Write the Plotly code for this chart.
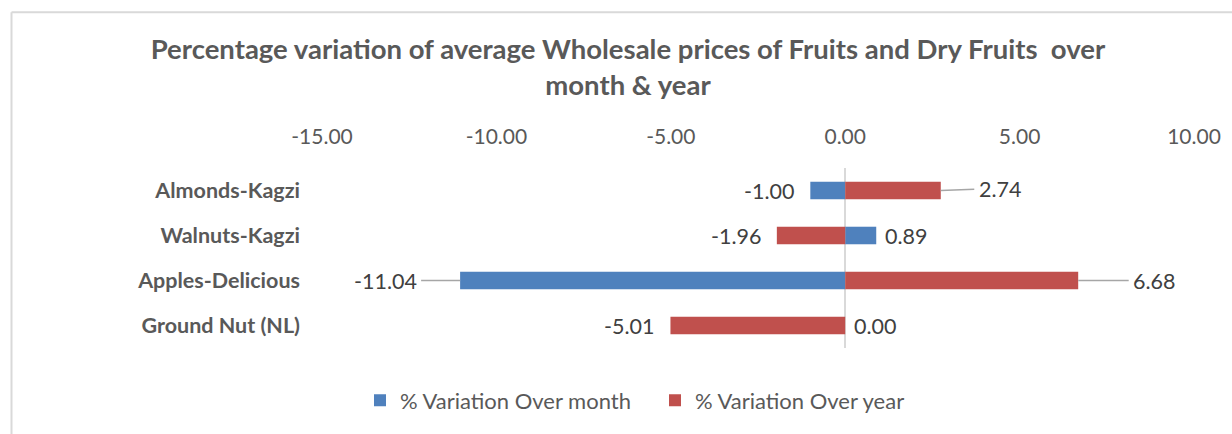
import plotly.graph_objects as go

categories = ["Almonds-Kagzi", "Walnuts-Kagzi", "Apples-Delicious", "Ground Nut (NL)"]
over_month = [-1.00, 0.89, -11.04, 0.00]
over_year = [2.74, -1.96, 6.68, -5.01]
tick_vals = [-15, -10, -5, 0, 5, 10]
tick_text = ["-15.00", "-10.00", "-5.00", "0.00", "5.00", "10.00"]

BLUE = "#4f81bd"
RED = "#c0504d"
FONT = "Lato"

fig = go.Figure()
fig.add_trace(go.Bar(y=categories, x=over_month, orientation="h", name="% Variation Over month",
                     marker=dict(color=BLUE, line=dict(width=0)), width=0.39))
fig.add_trace(go.Bar(y=categories, x=over_year, orientation="h", name="% Variation Over year",
                     marker=dict(color=RED, line=dict(width=0)), width=0.39))

# data labels; long ones get a leader line
leaders = {("Apples-Delicious", "m"): (-75, 0), ("Apples-Delicious", "y"): (76, 0),
           ("Almonds-Kagzi", "y"): (59, -2)}
annotations = []
for series, vals in (("m", over_month), ("y", over_year)):
    for cat, v in zip(categories, vals):
        txt = f"{v:.2f}"
        key = (cat, series)
        lab_font = dict(family=FONT, size=21.5, color="#404040")
        if key in leaders:
            ax, ay = leaders[key]
            annotations.append(dict(x=v, y=cat, xref="x", yref="y", text=txt, showarrow=True,
                                    arrowhead=0, arrowwidth=1.5, arrowcolor="#a6a6a6",
                                    ax=ax, ay=ay, standoff=0, borderpad=4, font=lab_font))
        else:
            neg = v < 0
            annotations.append(dict(x=v, y=cat, xref="x", yref="y", text=txt, showarrow=False,
                                    xanchor="right" if neg else "left",
                                    xshift=-14 if neg else 7, yshift=0, font=lab_font))

W, H = 1232, 434
L, R, T, B = 322, 38, 168, 84
pw, ph = W - L - R, H - T - B
def px_x(p):
    return (p - L) / pw
def px_y(p):
    return (H - B - p) / ph

shapes = [
    dict(type="line", xref="paper", yref="paper", x0=px_x(11.5), x1=px_x(1240), y0=px_y(10.5), y1=px_y(10.5),
         line=dict(color="#d9d9d9", width=2)),
    dict(type="line", xref="paper", yref="paper", x0=px_x(11.5), x1=px_x(11.5), y0=px_y(10.5), y1=px_y(440),
         line=dict(color="#d9d9d9", width=2)),
]

fig.update_layout(
    width=W, height=H,
    margin=dict(l=L, r=R, t=T, b=B),
    paper_bgcolor="white", plot_bgcolor="white",
    barmode="overlay",
    title=dict(text="Percentage variation of average Wholesale prices of Fruits and Dry Fruits  over<br>month & year",
               x=628 / W, xanchor="center", y=1 - 59 / H, yanchor="top",
               font=dict(family=FONT, size=27.5, color="#595959", weight="bold")),
    xaxis=dict(range=[-15, 10], side="top", tickvals=tick_vals, ticktext=tick_text,
               showgrid=False, zeroline=True, zerolinecolor="#d9d9d9", zerolinewidth=1.5,
               showline=False, ticks="", ticklabelstandoff=19,
               tickfont=dict(family=FONT, size=21, color="#595959")),
    yaxis=dict(autorange="reversed", showgrid=False, showline=False, ticks="", ticklabelstandoff=21,
               tickfont=dict(family=FONT, size=21.5, color="#595959", weight="bold")),
    legend=dict(orientation="h", x=px_x(655), xanchor="center", y=px_y(403), yanchor="middle",
                font=dict(family=FONT, size=22, color="#595959"), itemwidth=30,
                entrywidth=250, entrywidthmode="pixels",
                traceorder="normal"),
    annotations=annotations,
    shapes=shapes,
    showlegend=True,
)

fig.write_html("out.html", config={"displayModeBar": False},
               post_script="document.body.style.margin='0';")
